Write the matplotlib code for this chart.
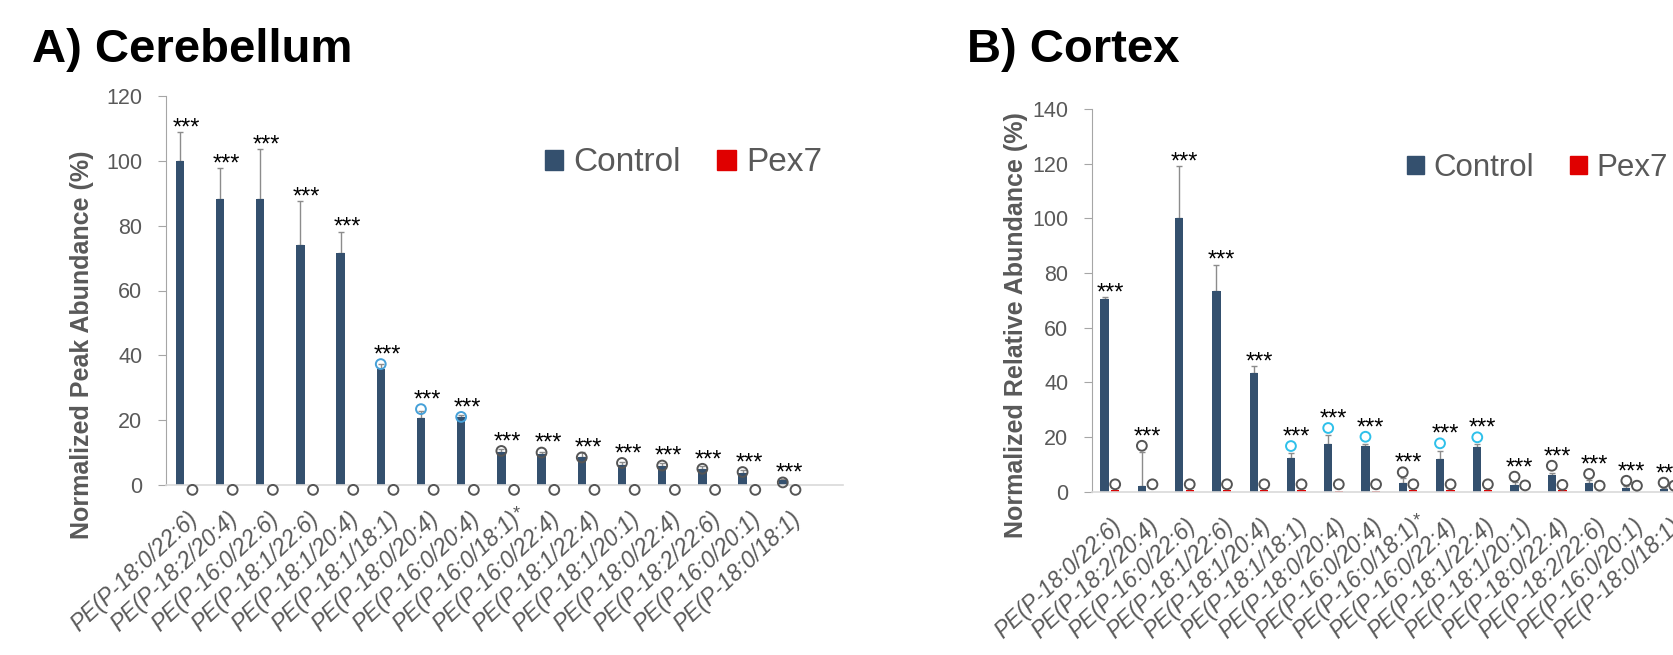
import numpy as np
import matplotlib.pyplot as plt
from matplotlib.patches import Patch

plt.rcParams.update({
    "font.family": "Liberation Sans",
})

species = ["PE(P-18:0/22:6)", "PE(P-18:2/20:4)", "PE(P-16:0/22:6)", "PE(P-18:1/22:6)",
           "PE(P-18:1/20:4)", "PE(P-18:1/18:1)", "PE(P-18:0/20:4)", "PE(P-16:0/20:4)",
           "PE(P-16:0/18:1)*", "PE(P-16:0/22:4)", "PE(P-18:1/22:4)", "PE(P-18:1/20:1)",
           "PE(P-18:0/22:4)", "PE(P-18:2/22:6)", "PE(P-16:0/20:1)", "PE(P-18:0/18:1)"]

# A) cerebellum, normalized peak abundance (%)
cb_ctrl = [100, 88.2, 88.2, 73.9, 71.5, 35.9, 20.8, 21.0, 10.2, 9.6, 8.6, 6.3, 6.0, 4.8, 3.8, 1.6]
cb_err = [8.8, 9.6, 15.3, 13.7, 6.6, 1.5, 2.0, 0.5, 0.8, 0.6, 1.5, 0.8, 0.8, 1.2, 0.8, 0.2]
cb_pex = [0, 0, 0, 0, 0, 0, 0, 0, 0, 0, 0, 0, 0, 0, 0, 0]
cb_ctrl_pt = [np.nan, np.nan, np.nan, np.nan, np.nan, 37.3, 23.4, 21.0,
              10.5, 10.0, 8.5, 6.8, 6.0, 5.0, 4.0, 0.8]
cb_pex_pt = [-1.5, -1.5, -1.5, -1.5, -1.5, -1.5, -1.5, -1.5,
             -1.5, -1.5, -1.5, -1.5, -1.5, -1.5, -1.5, -1.5]
cb_blue = [5, 6, 7]

# B) cortex, normalized relative abundance (%)
cx_ctrl = [70.4, 2.1, 100, 73.4, 43.4, 12.2, 17.3, 16.8, 3.1, 11.9, 16.5, 2.5, 6.2, 3.1, 1.5, 0.9]
cx_err = [0.7, 12.5, 19.0, 9.6, 2.6, 1.8, 3.4, 0.6, 1.8, 3.1, 1.0, 1.2, 0.6, 1.2, 0.5, 0.3]
cx_pex = [0.6, 0, 0.6, 0.6, 0.6, 0.6, 0.3, 0.3, 0.6, 0.6, 0.6, 0, 0.6, 0, 0, 0]
cx_ctrl_pt = [np.nan, 16.8, np.nan, np.nan, np.nan, 16.7, 23.3, 20.1,
              7.1, 17.7, 19.9, 5.5, 9.5, 6.5, 4.0, 3.3]
cx_pex_pt = [2.7, 2.7, 2.7, 2.7, 2.7, 2.7, 2.7, 2.7,
             2.7, 2.7, 2.7, 2.3, 2.5, 2.2, 2.2, 2.2]
cx_blue = [5, 6, 7, 9, 10]

NAVY = "#34506e"
RED = "#e00000"
GREY_TXT = "#595959"
W, H = 1674, 655

fig = plt.figure(figsize=(W / 100, H / 100), dpi=100)


def axes_px(x0, x1, ytop, ybot):
    return fig.add_axes([x0 / W, 1 - ybot / H, (x1 - x0) / W, (ybot - ytop) / H])


def panel(ax, ctrl, err, pex, ctrl_pt, pex_pt, blue_idx, blue, off, width, ymax):
    ctrl, err, ctrl_pt = np.array(ctrl), np.array(err), np.array(ctrl_pt)
    n = len(ctrl)
    x = np.arange(n)
    ax.bar(x - off, ctrl, width, color=NAVY, zorder=2)
    ax.bar(x + off, pex, width, color=RED, zorder=2)
    ax.errorbar(x - off, ctrl, yerr=[np.zeros(n), err], fmt="none", ecolor="#8c8c8c",
                elinewidth=1, capsize=2.5, capthick=1, zorder=1.5)
    cols = [blue if i in blue_idx else "#555555" for i in range(n)]
    ax.scatter(x - off, ctrl_pt, s=50, facecolors="none", edgecolors=cols,
               linewidths=1.4, zorder=3, clip_on=False)
    ax.scatter(x + off, pex_pt, s=50, facecolors="none", edgecolors="#555555",
               linewidths=1.4, zorder=3, clip_on=False)
    top = np.fmax(ctrl + err, np.nan_to_num(ctrl_pt, nan=0) + 0.012 * ymax)
    for xi, yi in zip(x, top):
        ax.annotate("***", (xi, yi), xytext=(0, -1.5), textcoords="offset points",
                    ha="center", va="baseline", fontsize=17, color="black",
                    annotation_clip=False)

    ax.set_ylim(0, ymax)
    ax.set_yticks(np.arange(0, ymax + 1, 20))
    for s in ["top", "right"]:
        ax.spines[s].set_visible(False)
    ax.spines["left"].set_color("#a6a6a6")
    ax.spines["bottom"].set_color("#d9d9d9")
    ax.spines["bottom"].set_linewidth(1.2)
    ax.tick_params(axis="y", length=6, color="#a6a6a6", labelcolor=GREY_TXT,
                   labelsize=15.5, pad=11)

    # x labels: a trailing "*" is drawn as a small mark past the ")"
    pad = 16
    ax.set_xticks(x + 0.02)
    ax.set_xticklabels([s.rstrip("*") for s in species], rotation=43, ha="right",
                       va="top", rotation_mode="anchor", fontsize=16.5,
                       style="italic", color=GREY_TXT)
    ax.tick_params(axis="x", length=0, pad=pad)
    for i, s in enumerate(species):
        if s.endswith("*"):
            ax.annotate("*", (i + 0.02, 0), xycoords=("data", "axes fraction"),
                        xytext=(3, -pad - 5), textcoords="offset points",
                        ha="left", va="center", fontsize=13, color=GREY_TXT,
                        annotation_clip=False)

    return [Patch(color=NAVY, label="Control"), Patch(color=RED, label="Pex7")]


ax1 = axes_px(166, 843, 96, 485)
ax1.set_xlim(-0.5, 16.34)
h = panel(ax1, cb_ctrl, cb_err, cb_pex, cb_ctrl_pt, cb_pex_pt, cb_blue, "#45a0d8",
          0.158, 0.207, 120)
ax1.legend(handles=h, loc="center left", bbox_to_anchor=(545 / W, 1 - 163 / H),
           bbox_transform=fig.transFigure, ncol=2, frameon=False, fontsize=24,
           labelcolor=GREY_TXT, handlelength=0.55, handleheight=0.55,
           handletextpad=0.3, columnspacing=1.1, borderpad=0, borderaxespad=0)

ax2 = axes_px(1092, 1736, 109, 491.7)
ax2.set_xlim(-0.48, 16.8)
h = panel(ax2, cx_ctrl, cx_err, cx_pex, cx_ctrl_pt, cx_pex_pt, cx_blue, "#2ec0ea",
          0.142, 0.22, 140)
ax2.legend(handles=h, loc="center left", bbox_to_anchor=(1407 / W, 1 - 168 / H),
           bbox_transform=fig.transFigure, ncol=2, frameon=False, fontsize=22.5,
           labelcolor=GREY_TXT, handlelength=0.55, handleheight=0.55,
           handletextpad=0.3, columnspacing=1.15, borderpad=0, borderaxespad=0)

fig.text(32 / W, 1 - 62 / H, "A) Cerebellum", fontsize=34, fontweight="bold",
         va="baseline", ha="left")
fig.text(967 / W, 1 - 62 / H, "B) Cortex", fontsize=34, fontweight="bold",
         va="baseline", ha="left")
fig.text(82 / W, 1 - 345 / H, "Normalized Peak Abundance (%)", rotation=90,
         fontsize=18, fontweight="bold", color=GREY_TXT, ha="center", va="center")
fig.text(1016 / W, 1 - 325 / H, "Normalized Relative Abundance (%)", rotation=90,
         fontsize=18, fontweight="bold", color=GREY_TXT, ha="center", va="center")

fig.savefig("out.png", dpi=100)
